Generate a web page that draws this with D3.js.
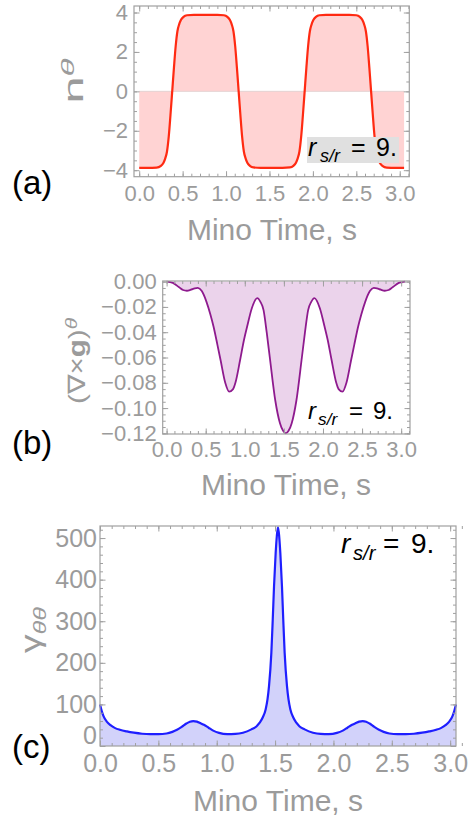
<!DOCTYPE html>
<html><head><meta charset="utf-8">
<script src="https://cdn.jsdelivr.net/npm/d3@7"></script>
<style>body{margin:0;background:#fff}svg{display:block}</style>
</head><body>
<svg id="chart" width="468" height="823"></svg>
<script>
// ---------- data ----------
const nTime = [0,0.1,0.2,0.25,0.28,0.30,0.32,0.34,0.36,0.38,0.40,0.42,0.44,0.46,0.48,0.51,0.55,0.63,0.8,0.9,0.975,1.015,1.045,1.065,1.085,1.105,1.125,1.145,1.165,1.185,1.205,1.225,1.245,1.275,1.315,1.4,1.525,
  1.65,1.735,1.775,1.805,1.825,1.845,1.865,1.885,1.905,1.925,1.945,1.965,1.985,2.005,2.035,2.075,2.15,2.25,2.42,2.5,2.54,2.57,2.59,2.61,2.63,2.65,2.67,2.69,2.71,2.73,2.75,2.77,2.80,2.85,2.95,3.05];
const nValue = [-3.88,-3.88,-3.87,-3.78,-3.62,-3.4,-3.05,-2.3,-1.2,0,1.2,2.3,3.05,3.4,3.62,3.78,3.86,3.88,3.88,3.88,3.86,3.78,3.62,3.4,3.05,2.3,1.2,0,-1.2,-2.3,-3.05,-3.4,-3.62,-3.78,-3.86,-3.88,-3.88,
  -3.88,-3.86,-3.78,-3.62,-3.4,-3.05,-2.3,-1.2,0,1.2,2.3,3.05,3.4,3.62,3.78,3.86,3.88,3.88,3.88,3.86,3.78,3.62,3.4,3.05,2.3,1.2,0,-1.2,-2.3,-3.05,-3.4,-3.62,-3.78,-3.87,-3.88,-3.88];

const curlTime = [0,0.08,0.16,0.21,0.26,0.31,0.36,0.40,0.45,0.51,0.56,0.60,0.65,0.69,0.75,0.80,0.85,0.88,0.94,0.99,1.03,1.09,1.16,1.20,1.24,1.28,1.32,1.39,1.45,1.49,1.525,
  1.56,1.60,1.66,1.73,1.77,1.81,1.85,1.89,1.96,2.02,2.06,2.11,2.17,2.20,2.25,2.30,2.36,2.40,2.45,2.49,2.54,2.60,2.65,2.69,2.74,2.79,2.84,2.89,2.97,3.05];
const curlValue = [0,-0.0010,-0.0045,-0.0066,-0.0072,-0.0064,-0.0053,-0.0050,-0.0075,-0.0160,-0.0260,-0.0355,-0.0500,-0.0620,-0.0800,-0.0870,-0.0850,-0.0800,-0.0620,-0.0460,-0.0355,-0.0210,-0.0130,-0.0160,-0.0225,-0.0400,-0.0600,-0.0940,-0.1120,-0.1180,-0.1200,
  -0.1180,-0.1120,-0.0940,-0.0600,-0.0400,-0.0225,-0.0160,-0.0130,-0.0210,-0.0355,-0.0460,-0.0620,-0.0800,-0.0850,-0.0870,-0.0800,-0.0620,-0.0500,-0.0355,-0.0260,-0.0160,-0.0075,-0.0050,-0.0053,-0.0064,-0.0072,-0.0066,-0.0045,-0.0010,0];

const gammaTime = [0,0.015,0.03,0.06,0.09,0.13,0.17,0.23,0.29,0.36,0.43,0.50,0.57,0.62,0.66,0.70,0.74,0.77,0.80,0.83,0.86,0.89,0.93,0.97,1.02,1.09,1.16,1.225,1.297,1.34,1.368,1.395,1.419,1.435,1.448,1.468,1.48,1.491,1.505,1.515,1.525,
  1.535,1.545,1.559,1.57,1.582,1.602,1.615,1.631,1.655,1.682,1.71,1.753,1.825,1.89,1.96,2.03,2.08,2.12,2.16,2.19,2.22,2.25,2.28,2.31,2.35,2.39,2.43,2.48,2.55,2.62,2.69,2.76,2.82,2.88,2.92,2.96,2.99,3.02,3.035,3.05];
const gammaValue = [100,84,72,58,50,43,39,35,32,29.5,28.5,28.5,30,34,39,46,54,58.5,60,58.5,55,51,44,37,31.5,28.5,29,32,40,47,56,69,88,112,144,224,304,384,464,505,526,
  505,464,384,304,224,144,112,88,69,56,47,40,32,29,28.5,31.5,37,44,51,55,58.5,60,58.5,54,46,39,34,30,28.5,28.5,29.5,32,35,39,43,50,58,72,84,100];

const xTicks = [0,0.5,1,1.5,2,2.5,3];
const xMinorTicks = [0,0.1,0.2,0.3,0.4,0.5,0.6,0.7,0.8,0.9,1,1.1,1.2,1.3,1.4,1.5,1.6,1.7,1.8,1.9,2,2.1,2.2,2.3,2.4,2.5,2.6,2.7,2.8,2.9,3,3.1];
const nTicks = [-4,-2,0,2,4];
const nMinorTicks = [-4,-3.5,-3,-2.5,-2,-1.5,-1,-0.5,0,0.5,1,1.5,2,2.5,3,3.5,4];
const curlTicks = [0,-0.02,-0.04,-0.06,-0.08,-0.10,-0.12];
const curlMinorTicks = [0,-0.005,-0.01,-0.015,-0.02,-0.025,-0.03,-0.035,-0.04,-0.045,-0.05,-0.055,-0.06,-0.065,-0.07,-0.075,-0.08,-0.085,-0.09,-0.095,-0.1,-0.105,-0.11,-0.115,-0.12];
const gammaTicks = [0,100,200,300,400,500];
const gammaMinorTicks = [0,20,40,60,80,100,120,140,160,180,200,220,240,260,280,300,320,340,360,380,400,420,440,460,480,500,520];
const panelLetters = ["(a)","(b)","(c)"];
const xTitle = "Mino Time, s";
const ratioText = ["r","s/r","=","9."];

// ---------- drawing ----------
const svg = d3.select("#chart");
const FONT = "'Liberation Sans', Arial, Helvetica, sans-serif";
const GRAY = "#9b9b9b";
const FRAME = "#a0a0a0";

function drawPanel(p) {
  const g = svg.append("g");
  const x = d3.scaleLinear().domain(p.xDomain).range([p.left, p.right]);
  const y = d3.scaleLinear().domain(p.yDomain).range([p.bottom, p.top]);
  const data = p.t.map((t, i) => [t, p.v[i]]);
  const area = d3.area().x(d => x(d[0])).y0(y(0)).y1(d => y(d[1])).curve(d3.curveMonotoneX);
  const line = d3.line().x(d => x(d[0])).y(d => y(d[1])).curve(d3.curveMonotoneX);
  g.append("path").datum(data).attr("d", area).attr("fill", p.fill);
  if (p.zeroLine) {
    g.append("line").attr("x1", x(p.t[0])).attr("x2", x(p.t[p.t.length - 1]))
      .attr("y1", y(0)).attr("y2", y(0)).attr("stroke", p.zeroLine).attr("stroke-width", 1);
  }
  g.append("path").datum(data).attr("d", line).attr("fill", "none")
    .attr("stroke", p.stroke).attr("stroke-width", p.sw).attr("stroke-linejoin", "round");

  const style = sel => {
    sel.select(".domain").remove();
    sel.selectAll("line").attr("stroke", FRAME).attr("stroke-width", 1);
    sel.selectAll("text").attr("fill", GRAY).attr("font-family", FONT).attr("font-size", p.tickFont);
  };
  const M = 5.5, m = 3;
  // bottom
  g.append("g").attr("transform", `translate(0,${p.bottom})`)
    .call(d3.axisBottom(x).tickValues(xTicks).tickFormat(d3.format(".1f")).tickSize(-M).tickPadding(p.xPad)).call(style);
  g.append("g").attr("transform", `translate(0,${p.bottom})`)
    .call(d3.axisBottom(x).tickValues(xMinorTicks).tickFormat("").tickSize(-m)).call(style);
  // top
  g.append("g").attr("transform", `translate(0,${p.top})`)
    .call(d3.axisTop(x).tickValues(xTicks).tickFormat("").tickSize(-M)).call(style);
  g.append("g").attr("transform", `translate(0,${p.top})`)
    .call(d3.axisTop(x).tickValues(xMinorTicks).tickFormat("").tickSize(-m)).call(style);
  // left
  const leftAxis = g.append("g").attr("transform", `translate(${p.left},0)`)
    .call(d3.axisLeft(y).tickValues(p.yTicks).tickFormat(p.yFormat).tickSize(-M).tickPadding(p.yPad)).call(style);
  if (p.zeroLabelDy) {
    leftAxis.selectAll(".tick").filter(d => d === 0).select("text").attr("dy", p.zeroLabelDy);
  }
  g.append("g").attr("transform", `translate(${p.left},0)`)
    .call(d3.axisLeft(y).tickValues(p.yMinor).tickFormat("").tickSize(-m)).call(style);
  // right
  g.append("g").attr("transform", `translate(${p.right},0)`)
    .call(d3.axisRight(y).tickValues(p.yTicks).tickFormat("").tickSize(-M)).call(style);
  g.append("g").attr("transform", `translate(${p.right},0)`)
    .call(d3.axisRight(y).tickValues(p.yMinor).tickFormat("").tickSize(-m)).call(style);
  // frame
  g.append("rect").attr("x", p.left).attr("y", p.top).attr("width", p.right - p.left).attr("height", p.bottom - p.top)
    .attr("fill", "none").attr("stroke", FRAME).attr("stroke-width", 1.2);

  // x title
  g.append("text").attr("x", p.titleX).attr("y", p.titleY).attr("text-anchor", "middle")
    .attr("font-family", FONT).attr("font-size", 30).attr("fill", GRAY).text(xTitle);
  // panel letter
  g.append("text").attr("x", 12).attr("y", p.letterY).attr("font-family", FONT).attr("font-size", 33)
    .attr("fill", "#000").text(p.letter);
  // ratio label
  if (p.box) {
    g.append("rect").attr("x", p.box[0]).attr("y", p.box[1]).attr("width", p.box[2]).attr("height", p.box[3]).attr("fill", "#e0e0e0");
  }
  const r = p.ratio;
  const t = g.append("text").attr("font-family", FONT).attr("fill", "#000").attr("font-size", r.fs);
  t.append("tspan").attr("x", r.xs[0]).attr("y", r.y).attr("font-style", "italic").text(ratioText[0]);
  t.append("tspan").attr("x", r.xs[1]).attr("y", r.y + r.fs * 0.25).attr("font-style", "italic").attr("font-size", r.fs * 0.72).text(ratioText[1]);
  t.append("tspan").attr("x", r.xs[2]).attr("y", r.y).text(ratioText[2]);
  t.append("tspan").attr("x", r.xs[3]).attr("y", r.y).text(ratioText[3]);

  // y label
  const yl = g.append("text").attr("transform", `translate(${p.ylab.x},${p.ylab.y}) rotate(-90)`)
    .attr("text-anchor", "middle").attr("font-family", FONT).attr("font-size", p.ylab.fs).attr("fill", GRAY)
    .attr("textLength", p.ylab.len).attr("lengthAdjust", "spacingAndGlyphs");
  p.ylab.parts.forEach(pt => {
    const s = yl.append("tspan").text(pt.text);
    if (pt.dy) s.attr("dy", pt.dy);
    if (pt.fs) s.attr("font-size", pt.fs);
    if (pt.italic) s.attr("font-style", "italic");
    if (pt.bold) s.attr("font-weight", "bold");
  });
}

drawPanel({
  t: nTime, v: nValue, xDomain: [-0.06, 3.11], yDomain: [-4.33, 4.33],
  left: 134, right: 409.3, top: 6, bottom: 176.7,
  fill: "#ffd3d3", stroke: "#ff2a12", sw: 2.2, zeroLine: "#e6d2d2",
  yTicks: nTicks, yMinor: nMinorTicks, yFormat: d3.format("d"),
  tickFont: 22, xPad: 9, yPad: 6,
  titleX: 272, titleY: 240, letter: panelLetters[0], letterY: 194,
  box: [307, 137, 92, 26],
  ratio: { fs: 25, y: 156, xs: [308, 320, 351, 376] },
  ylab: { x: 83, y: 81, fs: 28, len: 45, parts: [{ text: "n" }, { text: "θ", dy: "-0.45em", fs: 19, italic: true }] }
});

drawPanel({
  t: curlTime, v: curlValue, xDomain: [-0.05, 3.113], yDomain: [-0.1205, 0.0005],
  left: 162.7, right: 410, top: 281, bottom: 434,
  fill: "#ebd3eb", stroke: "#8e1a8e", sw: 1.8, zeroLine: null,
  yTicks: curlTicks, yMinor: curlMinorTicks, yFormat: d3.format(".2f"),
  tickFont: 22, xPad: 7, yPad: 6,
  titleX: 286, titleY: 495, letter: panelLetters[1], letterY: 454,
  box: null,
  ratio: { fs: 24, y: 419, xs: [308, 318, 349, 373] },
  ylab: { x: 85, y: 361, fs: 24, len: 86, parts: [{ text: "(∇" }, { text: "×" }, { text: "g", bold: true }, { text: ")" }, { text: "θ", dy: "-0.45em", fs: 17, italic: true }] }
});

drawPanel({
  t: gammaTime, v: gammaValue, xDomain: [0, 3.05], yDomain: [0, 529],
  left: 100, right: 456, top: 526, bottom: 746,
  fill: "#d2d2fa", stroke: "#1f1fff", sw: 2.2, zeroLine: null,
  yTicks: gammaTicks, yMinor: gammaMinorTicks, yFormat: d3.format("d"),
  tickFont: 25, xPad: 8, yPad: 3, zeroLabelDy: "-0.1em",
  titleX: 278, titleY: 811, letter: panelLetters[2], letterY: 758,
  box: null,
  ratio: { fs: 28, y: 553, xs: [341, 353, 383, 411] },
  ylab: { x: 40, y: 630, fs: 28, len: 46, parts: [{ text: "γ" }, { text: "θθ", dy: "0.3em", fs: 19, italic: true }] }
});
</script>
</body></html>
